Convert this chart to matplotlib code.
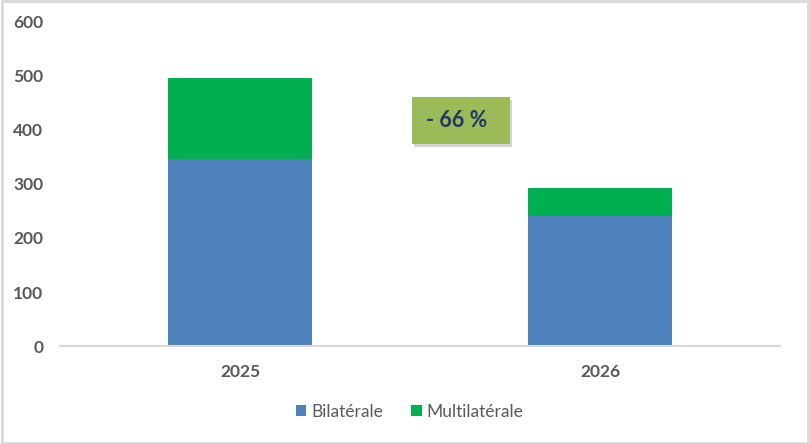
import matplotlib.pyplot as plt
import matplotlib.patheffects as pe
from matplotlib.patches import Rectangle

# data
years = ["2025", "2026"]
bilaterale = [346, 241]
multilaterale = [151, 51]
series_names = ["Bilatérale", "Multilatérale"]
note = "- 66 %"

plt.rcParams['font.family'] = ['Lato', 'DejaVu Sans']

fig = plt.figure(figsize=(8.1, 4.44), dpi=100)
ax = fig.add_axes([0.074, 0.2207, 0.889, 0.7298])

x = range(len(years))
ax.bar(x, bilaterale, width=0.4, color="#4F81BD", label=series_names[0])
ax.bar(x, multilaterale, width=0.4, bottom=bilaterale, color="#00B050", label=series_names[1])

ax.set_xlim(-0.5, 1.5)
ax.set_ylim(0, 600)
ax.set_yticks(range(0, 601, 100))
ax.set_xticks(list(x))
ax.set_xticklabels(years)
for s in ["top", "right", "left"]:
    ax.spines[s].set_visible(False)
ax.spines["bottom"].set_color("#D9D9D9")
ax.spines["bottom"].set_linewidth(1.5)
ax.tick_params(axis="both", length=0, colors="#595959", labelsize=12.5)
ax.tick_params(axis="y", pad=12)
ax.tick_params(axis="x", pad=13)
for lab in ax.get_xticklabels() + ax.get_yticklabels():
    lab.set_fontweight("bold")

# the "- 66 %" callout box with a soft shadow
box = Rectangle((0.489, 0.624), 0.136, 0.145, transform=ax.transAxes,
                facecolor="#9BBB59", edgecolor="none", zorder=5,
                path_effects=[pe.SimplePatchShadow(offset=(1.5, -2), shadow_rgbFace="#A0A0A0", alpha=0.45),
                              pe.Normal()])
ax.add_patch(box)
ax.text(0.551, 0.697, note, transform=ax.transAxes, ha="center", va="center",
        fontsize=15.5, fontweight="bold", color="#1F3864", zorder=6)

leg = fig.legend(loc="center", bbox_to_anchor=(0.506, 0.072), ncol=2, frameon=False,
                 fontsize=12.5, handlelength=0.6, handleheight=0.6, handletextpad=0.3,
                 columnspacing=1.6)
for t in leg.get_texts():
    t.set_color("#595959")

# light grey outer frame like the spreadsheet chart area
fig.patches.append(Rectangle((0.002, 0.003), 0.996, 0.994, transform=fig.transFigure,
                             fill=False, edgecolor="#D9D9D9", linewidth=2))

fig.savefig("out.png", dpi=100)
